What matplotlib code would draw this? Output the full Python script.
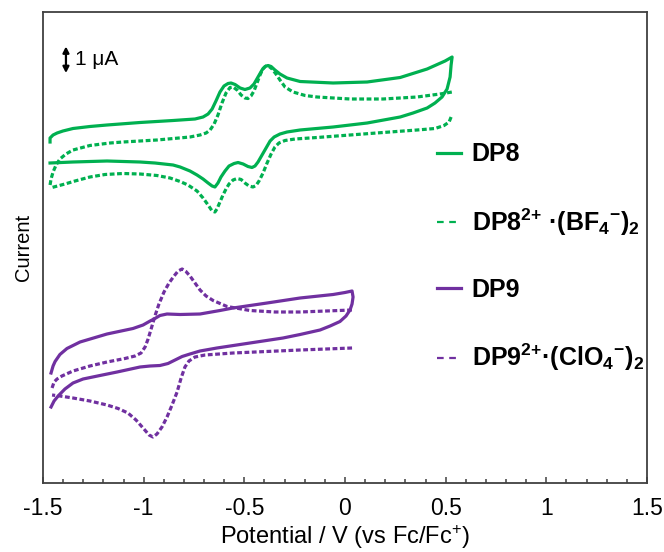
import numpy as np
import matplotlib
matplotlib.use("Agg")
import matplotlib.pyplot as plt
from matplotlib.lines import Line2D

plt.rcParams['font.family'] = ['Liberation Sans', 'DejaVu Sans']
plt.rcParams['mathtext.fontset'] = 'custom'
plt.rcParams['mathtext.rm'] = 'Liberation Sans'
plt.rcParams['mathtext.bf'] = 'Liberation Sans:bold'
plt.rcParams['mathtext.default'] = 'bf'

GREEN = '#00B050'
PURPLE = '#7030A0'

# ---- data: potential (V vs Fc/Fc+) and current (uA, arbitrary offset) ----
dp8_E = [-1.465, -1.465, -1.450, -1.430, -1.401, -1.351, -1.267, -1.182, -1.018, -0.854,
         -0.745, -0.705, -0.680, -0.660, -0.641, -0.621, -0.601, -0.581, -0.566, -0.546,
         -0.521, -0.497, -0.472, -0.452, -0.432, -0.412, -0.397, -0.382, -0.367, -0.348,
         -0.323, -0.288, -0.223, -0.059, 0.110, 0.274, 0.408, 0.497, 0.532,
         0.527, 0.522, 0.507, 0.482, 0.447, 0.408, 0.338, 0.274, 0.110, -0.059,
         -0.223, -0.288, -0.323, -0.352, -0.372, -0.392, -0.412, -0.432, -0.447, -0.462,
         -0.482, -0.506, -0.531, -0.551, -0.576, -0.596, -0.616, -0.631, -0.646, -0.660,
         -0.680, -0.705, -0.735, -0.770, -0.819, -0.854, -0.944, -1.018, -1.182, -1.351,
         -1.465]
dp8_I = [13.60, 13.76, 13.88, 13.96, 14.04, 14.14, 14.22, 14.28, 14.38, 14.46,
         14.52, 14.60, 14.72, 14.92, 15.24, 15.60, 15.84, 15.94, 15.96, 15.90,
         15.76, 15.70, 15.76, 15.92, 16.20, 16.48, 16.62, 16.66, 16.62, 16.48,
         16.32, 16.16, 16.02, 15.96, 16.00, 16.18, 16.52, 16.84, 17.00,
         16.68, 16.20, 15.72, 15.40, 15.16, 14.96, 14.76, 14.60, 14.36, 14.20,
         14.08, 14.00, 13.92, 13.80, 13.64, 13.36, 13.08, 12.80, 12.64, 12.58,
         12.62, 12.72, 12.78, 12.74, 12.64, 12.44, 12.20, 11.96, 11.80, 11.84,
         11.96, 12.12, 12.28, 12.44, 12.60, 12.68, 12.76, 12.80, 12.84, 12.80,
         12.76]

dp8s_E = [-1.465, -1.460, -1.450, -1.435, -1.416, -1.386, -1.351, -1.267, -1.167, -1.103,
          -0.934, -0.770, -0.720, -0.690, -0.670, -0.650, -0.631, -0.611, -0.591, -0.571,
          -0.556, -0.536, -0.516, -0.497, -0.482, -0.467, -0.452, -0.437, -0.422, -0.407,
          -0.392, -0.377, -0.362, -0.343, -0.323, -0.298, -0.258, -0.198, -0.139, 0.025,
          0.189, 0.358, 0.472, 0.532,
          np.nan,
          0.527, 0.517, 0.492, 0.447, 0.358, 0.189, 0.025, -0.139, -0.248, -0.298,
          -0.328, -0.348, -0.367, -0.387, -0.407, -0.427, -0.442, -0.457, -0.477, -0.497,
          -0.516, -0.536, -0.556, -0.576, -0.591, -0.606, -0.621, -0.636, -0.646, -0.660,
          -0.680, -0.705, -0.735, -0.780, -0.819, -0.869, -0.934, -1.018, -1.103, -1.192,
          -1.267, -1.341, -1.391, -1.465]
dp8s_I = [11.88, 12.12, 12.40, 12.68, 12.92, 13.12, 13.28, 13.46, 13.56, 13.60,
          13.68, 13.80, 13.88, 13.96, 14.08, 14.32, 14.68, 15.16, 15.56, 15.78,
          15.80, 15.68, 15.48, 15.36, 15.34, 15.44, 15.64, 15.96, 16.28, 16.54,
          16.64, 16.62, 16.52, 16.32, 16.08, 15.80, 15.60, 15.46, 15.40, 15.32,
          15.32, 15.40, 15.52, 15.60,
          np.nan,
          14.60, 14.40, 14.26, 14.14, 14.08, 13.98, 13.88, 13.78, 13.72, 13.66,
          13.56, 13.40, 13.12, 12.76, 12.36, 12.04, 11.86, 11.80, 11.84, 11.96,
          12.10, 12.14, 12.08, 11.92, 11.72, 11.48, 11.20, 10.92, 10.80, 10.84,
          11.08, 11.36, 11.64, 11.88, 12.02, 12.16, 12.26, 12.32, 12.34, 12.30,
          12.20, 12.04, 11.92, 11.76]

dp9_E = [-1.460, -1.450, -1.440, -1.416, -1.381, -1.316, -1.182, -1.053, -1.003, -0.968,
         -0.944, -0.919, -0.884, -0.819, -0.720, -0.621, -0.556, -0.387, -0.223, -0.059,
         0.000, 0.035,
         0.040, 0.035, 0.025, 0.005, -0.025, -0.074, -0.124, -0.223, -0.308, -0.472,
         -0.636, -0.720, -0.770, -0.809, -0.844, -0.879, -0.919, -0.968, -1.018, -1.132,
         -1.217, -1.301, -1.351, -1.391, -1.425, -1.445, -1.460]
dp9_I = [4.36, 4.64, 4.82, 5.10, 5.34, 5.60, 5.92, 6.14, 6.28, 6.44,
         6.54, 6.66, 6.72, 6.70, 6.72, 6.86, 6.96, 7.16, 7.36, 7.50,
         7.58, 7.64,
         7.40, 7.12, 6.88, 6.64, 6.42, 6.24, 6.08, 5.90, 5.76, 5.56,
         5.36, 5.24, 5.12, 5.02, 4.88, 4.74, 4.66, 4.64, 4.60, 4.40,
         4.26, 4.12, 3.96, 3.72, 3.44, 3.24, 3.00]

dp9s_E = [-1.455, -1.445, -1.430, -1.406, -1.351, -1.267, -1.182, -1.093, -1.043, -1.013,
          -0.993, -0.978, -0.963, -0.944, -0.924, -0.899, -0.874, -0.849, -0.829, -0.809,
          -0.790, -0.770, -0.745, -0.720, -0.690, -0.655, -0.586, -0.472, -0.348, -0.223,
          0.035,
          np.nan,
          0.035, -0.223, -0.556, -0.695, -0.745, -0.775, -0.795, -0.814, -0.834, -0.859,
          -0.884, -0.909, -0.934, -0.954, -0.973, -1.003, -1.038, -1.078, -1.127, -1.182,
          -1.267, -1.351, -1.416, -1.455]
dp9s_I = [3.76, 4.00, 4.12, 4.24, 4.44, 4.64, 4.80, 4.94, 5.04, 5.16,
          5.40, 5.72, 6.12, 6.64, 7.12, 7.60, 7.96, 8.24, 8.44, 8.52,
          8.42, 8.24, 7.96, 7.68, 7.44, 7.26, 7.02, 6.86, 6.80, 6.80,
          6.88,
          np.nan,
          5.36, 5.28, 5.16, 5.08, 5.00, 4.84, 4.60, 4.16, 3.60, 3.08,
          2.60, 2.20, 1.92, 1.80, 1.88, 2.16, 2.48, 2.76, 2.94, 3.08,
          3.24, 3.36, 3.44, 3.48]

labels = ['DP8',
          'DP8$^{2{+}}$ ·(BF$_{4}$$^{-}$)$_{2}$',
          'DP9',
          'DP9$^{2{+}}$·(ClO$_{4}$$^{-}$)$_{2}$']

x_ticks = [-1.5, -1, -0.5, 0, 0.5, 1, 1.5]
x_ticklabels = ['-1.5', '-1', '-0.5', '0', '0.5', '1', '1.5']

# ---- figure ----
fig = plt.figure(figsize=(6.64, 5.52), dpi=100)
ax = fig.add_axes([43/664, 69/552, 604/664, 471/552])

dash = (0, (1.5, 0.8))
lw = 2.3
ax.plot(dp8_E, dp8_I, color=GREEN, lw=lw, solid_joinstyle='round')
ax.plot(dp8s_E, dp8s_I, color=GREEN, lw=lw, ls=dash)
ax.plot(dp9_E, dp9_I, color=PURPLE, lw=lw, solid_joinstyle='round')
ax.plot(dp9s_E, dp9s_I, color=PURPLE, lw=lw, ls=dash)

ax.set_xlim(-1.5, 1.5)
ax.set_ylim(-0.04, 18.8)
ax.set_xticks(x_ticks)
ax.set_xticklabels(x_ticklabels)
ax.set_xticks(np.arange(-1.5, 1.51, 0.1), minor=True)
ax.tick_params(axis='x', which='major', direction='in', length=4, width=1.1,
               labelsize=16.5, pad=10, colors='#404040', labelcolor='black')
ax.tick_params(axis='x', which='minor', direction='in', length=3, width=1.1,
               colors='#404040')
ax.set_yticks([])
for s in ax.spines.values():
    s.set_linewidth(1.3)
    s.set_color('#404040')

ax.set_xlabel(r'Potential / V (vs Fc/Fc$^{\mathrm{+}}$)', fontsize=17, labelpad=2)
ax.set_ylabel('Current', fontsize=14.5, labelpad=7)

# scale bar
ax.annotate('', xy=(-1.386, 17.42), xytext=(-1.386, 16.36),
            arrowprops=dict(arrowstyle='<|-|>,head_length=0.35,head_width=0.18',
                            color='black', lw=1.6, shrinkA=0, shrinkB=0))
ax.text(-1.34, 16.9, '1 μA', fontsize=15, va='center', ha='left')

handles = [Line2D([], [], color=GREEN, lw=lw),
           Line2D([], [], color=GREEN, lw=1.6, ls=(0, (3, 2.5))),
           Line2D([], [], color=PURPLE, lw=lw),
           Line2D([], [], color=PURPLE, lw=1.6, ls=(0, (3, 2.5)))]
leg = ax.legend(handles, labels, loc='upper left', bbox_to_anchor=(0.652, 0.723),
                frameon=False, prop={'weight': 'bold', 'size': 18},
                handlelength=0.95, handletextpad=0.45, labelspacing=1.6,
                borderaxespad=0, borderpad=0)

fig.savefig('out.png', dpi=100)
